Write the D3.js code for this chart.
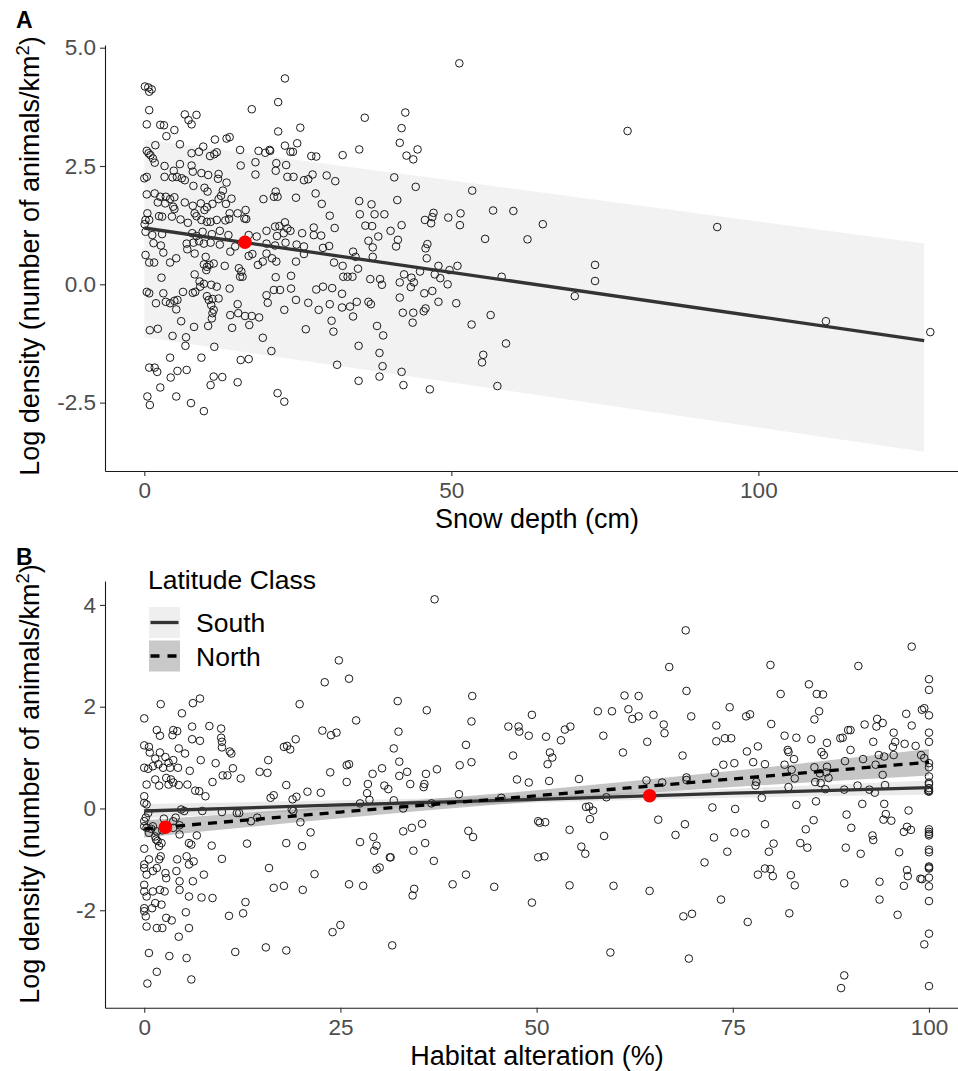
<!DOCTYPE html>
<html>
<head>
<meta charset="utf-8">
<script src="https://cdn.jsdelivr.net/npm/d3@7"></script>
<style>
  body { margin: 0; background: #fff; }
  svg { display: block; font-family: "Liberation Sans", Arial, sans-serif; }
</style>
</head>
<body>
<script>
// ---- panel A : snow depth (cm) vs log density ----
const snowData = [
  [0.1,4.18],[0.65,4.16],[1.2,4.12],[0.8,4.07],[22.9,4.35],[21.8,3.85],[17.5,3.70],[0.8,3.68],[6.6,3.59],[8.5,3.58],
  [7.2,3.47],[7.7,3.38],[0.4,3.38],[2.6,3.37],[3.2,3.36],[4.9,3.26],[3.6,3.13],[21.8,3.23],[25.4,3.31],[11.5,3.06],
  [13.4,3.08],[13.9,3.11],[1.8,2.94],[5.8,2.96],[9.6,2.91],[8.9,2.80],[11.8,2.79],[11.4,2.75],[10.7,2.71],[7.7,2.77],
  [15.6,2.84],[18.6,2.82],[20.4,2.84],[20.5,2.82],[19.7,2.78],[22.9,2.93],[23.8,2.80],[24.2,2.80],[24.9,2.98],[0.4,2.82],
  [0.7,2.77],[1.0,2.73],[1.4,2.66],[1.7,2.57],[3.3,2.50],[5.8,2.54],[7.7,2.51],[7.9,2.38],[15.7,2.51],[18.1,2.58],
  [18.1,2.32],[21.5,2.56],[23.1,2.52],[27.2,2.71],[28.0,2.70],[0.4,2.27],[0,2.24],[3.3,2.27],[4.6,2.26],[5.3,2.27],
  [6.1,2.24],[6.6,2.20],[4.8,2.40],[9.3,2.35],[10.4,2.31],[12.1,2.33],[12.0,2.23],[13.4,2.15],[8.0,2.08],[9.8,2.04],
  [10.3,1.96],[21.4,2.40],[23.3,2.27],[24.3,2.27],[27.4,2.32],[26.0,2.20],[26.7,2.22],[0.4,1.90],[1.7,1.92],[2.6,1.85],
  [3.5,1.85],[4.2,1.80],[4.9,1.84],[2.2,1.73],[3.4,1.71],[4.7,1.64],[4.9,1.59],[6.6,1.73],[7.9,1.66],[9.2,1.71],
  [9.8,1.57],[10.2,1.63],[11.1,1.70],[12.1,1.80],[12.8,1.98],[12.5,1.87],[13.3,1.70],[14.2,1.81],[16.5,1.57],[19.4,1.80],
  [21.4,1.96],[21.7,1.85],[21.1,1.85],[24.7,1.83],[27.9,1.92],[0.5,1.50],[0.8,1.36],[2.4,1.44],[2.9,1.43],[4.5,1.43],
  [5.9,1.37],[7.1,1.30],[8.2,1.50],[8.5,1.44],[9.3,1.36],[10.2,1.32],[10.8,1.32],[11.8,1.36],[13.2,1.35],[13.8,1.38],
  [13.9,1.50],[15.2,1.50],[16.3,1.39],[16.6,1.38],[21.3,1.22],[22.0,1.23],[22.9,1.31],[23.3,1.18],[27.6,1.20],[0.2,1.36],
  [0.05,1.27],
  [0.2,1.11],[1.3,1.04],[2.9,1.06],[7.8,1.08],[8.5,1.02],[9.5,1.11],[11.0,1.06],[12.3,1.13],[13.7,1.04],[17.0,1.04],
  [18.3,1.01],[19.9,1.13],[21.6,1.02],[22.7,1.08],[23.8,1.13],[25.7,1.08],[27.6,1.04],
  [1.5,0.87],[2.7,0.82],[6.9,0.86],[8.0,0.88],[8.9,0.91],[9.7,0.86],[10.8,0.88],[12.3,0.84],[14.8,0.80],[19.9,0.86],
  [21.3,0.82],[23.0,0.88],[24.8,0.84],[26.0,0.80],
  [0.2,0.62],[0.8,0.46],[1.6,0.46],[3.1,0.67],[4.2,0.46],[5.2,0.55],[7.0,0.74],[8.2,0.65],[10.0,0.58],[9.7,0.42],
  [10.2,0.37],[10.6,0.41],[10.1,0.30],[11.3,0.44],[13.1,0.39],[14.0,0.69],[15.4,0.34],[15.8,0.27],[16.0,0.16],[17.0,0.60],
  [17.6,0.64],[18.5,0.41],[19.3,0.48],[19.9,0.65],[20.8,0.55],[21.5,0.48],[24.7,0.48],[26.0,0.64],[2.8,0.14],[8.2,0.21],
  [9.0,0.06],[9.1,-0.05],[9.7,0.01],[10.9,-0.01],[11.8,-0.05],[13.9,-0.09],[15.6,0.16],[21.4,0.15],[23.9,0.18],[28.0,-0.11],
  [0.4,-0.16],[0.8,-0.19],[1.9,-0.40],[3.1,-0.19],[3.5,-0.37],[4.2,-0.40],[4.9,-0.35],[5.4,-0.33],[6.3,-0.16],[7.9,-0.18],
  [8.3,-0.16],[10.2,-0.25],[10.5,-0.33],[11.1,-0.31],[12.1,-0.30],[10.9,-0.44],[11.3,-0.54],[19.9,-0.23],[20.1,-0.39],[21.1,-0.12],
  [22.1,-0.12],[23.9,-0.09],[24.7,-0.33],[26.7,-0.39],[28.4,-0.54],[5.2,-0.53],[11.1,-0.61],[11.0,-0.72],[14.0,-0.65],[15.3,-0.61],
  [16.4,-0.67],[17.5,-0.67],[18.7,-0.70],[6.0,-0.78],[0.9,-0.97],[2.2,-0.94],[8.1,-0.90],[10.4,-0.88],[14.3,-0.92],[17.1,-0.86],
  [26.3,-0.95],[15.2,-0.42],[22.8,-0.54],[4.6,-1.09],[6.8,-1.12],[6.7,-1.30],[11.4,-1.32],[19.3,-1.13],[20.7,-1.41],[4.2,-1.55],
  [9.3,-1.55],[15.7,-1.60],[17.0,-1.58],[0.8,-1.76],[1.7,-1.76],[2.1,-1.85],[4.3,-1.97],[5.4,-1.83],[6.9,-1.81],[11.3,-1.95],
  [12.7,-1.96],[10.8,-2.13],[15.2,-2.07],[2.6,-2.18],[0.5,-2.37],[5.2,-2.37],[0.9,-2.55],[7.6,-2.51],[9.7,-2.68],[21.7,-2.30],
  [22.8,-2.48],
  [51.3,4.67],[35.9,3.52],[42.5,3.63],[41.9,3.30],[41.6,2.99],[42.7,2.72],[43.8,2.64],[44.5,2.85],[35.0,2.85],[32.3,2.73],
  [78.7,3.24],[29.7,2.30],[31.1,2.18],[40.7,2.26],[44.2,2.06],[53.4,1.98],[28.9,1.70],[35.0,1.76],[37.0,1.69],[41.2,1.78],
  [30.2,1.45],[35.1,1.48],[37.5,1.48],[39.1,1.48],[56.8,1.56],[60.1,1.55],[47.1,1.51],[46.9,1.42],[45.7,1.36],[46.7,1.29],
  [49.5,1.41],[51.5,1.50],[51.4,1.25],[64.9,1.27],[36.0,1.24],[37.1,1.23],[31.0,1.19],[40.1,1.13],[41.9,1.25],[38.1,1.01],
  [36.5,0.92],[37.2,0.78],[41.3,0.94],[41.0,0.80],[28.8,1.03],[30.1,0.81],[29.1,0.77],[55.5,0.96],[62.4,0.95],[34.0,0.69],
  [34.4,0.58],[37.2,0.58],[46.1,0.85],[45.8,0.76],[46.0,0.55],[30.9,0.46],[32.3,0.39],[34.8,0.33],[32.4,0.16],[33.1,0.16],
  [33.9,0.16],[36.8,0.11],[38.4,0.11],[38.7,-0.01],[44.9,0.27],[42.3,0.21],[43.5,0.14],[43.9,0.04],[41.6,0.04],[43.4,-0.06],
  [47.9,0.39],[47.3,0.21],[48.2,0.13],[49.4,0.00],[49.7,0.30],[51.0,0.39],[58.2,0.16],[73.4,0.41],[73.4,0.07],[70.1,-0.25],
  [29.1,-0.05],[30.6,-0.08],[32.2,-0.20],[41.6,-0.28],[45.6,-0.19],[46.9,-0.14],[30.2,-0.42],[32.2,-0.49],[33.5,-0.47],[34.6,-0.37],
  [36.5,-0.37],[36.9,-0.42],[42.1,-0.60],[43.8,-0.60],[45.5,-0.57],[45.8,-0.51],[47.9,-0.37],[50.8,-0.40],[34.0,-0.68],[30.5,-0.77],
  [30.8,-1.00],[43.7,-0.81],[37.9,-0.88],[38.9,-1.08],[53.3,-0.85],[56.4,-0.65],[58.9,-1.25],[34.9,-1.30],[55.2,-1.49],[55.0,-1.65],
  [38.3,-1.45],[38.8,-1.73],[38.3,-1.95],[41.9,-1.85],[31.4,-1.70],[34.9,-2.04],[42.2,-2.13],[46.5,-2.22],[57.5,-2.15],
  [93.3,1.21],[111.0,-0.78],[128.0,-1.01]
];
const snowXTicks = [0, 50, 100];
const snowYTicks = [-2.5, 0, 2.5, 5];
const snowFitX = [0, 127];
const snowFitY = [1.19, -1.19];
const snowBandLow = [-1.12, -3.54];
const snowBandHigh = [3.06, 0.86];
const snowMean = [[16.4, 0.89]];

// ---- panel B : habitat alteration (%) vs log density ----
const habitatData = [
  [2.1,2.05],[0.0,1.77],[4.8,1.87],[6.2,2.07],[7.1,2.16],[6.1,1.61],[8.3,1.62],[9.8,1.57],[1.6,1.54],[2.0,1.43],
  [3.7,1.54],[4.2,1.52],[3.6,1.44],[6.1,1.36],[7.1,1.33],[9.8,1.39],[9.9,1.31],[9.9,1.20],[10.9,1.12],[11.1,1.08],
  [0,1.24],[0.6,1.21],[0.7,1.10],[2.0,1.10],[2.7,1.01],[1.4,0.98],[3.1,0.90],[3.7,0.95],[4.4,1.18],[5.2,1.08],
  [7.2,0.95],[9.1,0.89],[11.3,0.79],[15.8,0.95],[17.8,1.21],[18.2,1.23],[18.6,1.16],[19.3,1.36],[19.8,2.05],[0,0.80],
  [0.5,0.78],[1.1,0.83],[1.8,0.87],[2.4,0.80],[3.3,0.80],[4.3,0.80],
  [5.8,0.74],[14.7,0.72],[15.7,0.70],[0.3,0.47],[1.4,0.57],[2.8,0.60],[3.4,0.57],[3.7,0.51],[3.1,0.47],[1.9,0.45],
  [4.4,0.46],[5.5,0.47],[6.5,0.35],[7.0,0.34],[7.8,0.24],[8.7,0.52],[10.0,0.65],[10.6,0.65],[12.3,0.59],[18.1,0.46],
  [16.1,0.21],[16.5,0.26],[18.9,0.18],[19.4,0.23],[20.8,0.33],
  [0,0.24],[0,0.11],[0.3,0.08],[0.5,-0.09],[0.2,-0.18],[0,-0.25],[0,-0.35],[0.3,-0.38],[0.6,-0.48],[0.9,-0.40],
  [1.1,-0.35],[1.6,-0.45],[1.5,-0.61],[1.4,-0.55],[1.7,-0.64],[2.2,-0.68],[1.9,-0.74],[2.3,-0.43],[2.5,-0.20],[3.7,-0.25],
  [4.0,-0.18],[4.7,-0.02],[5.1,-0.05],[4.5,-0.33],[3.7,-0.38],[4.5,-0.51],[5.7,-0.68],[6.0,-0.71],[6.7,-0.53],[7.4,-0.05],
  [8.6,-0.73],[9.9,-0.07],[11.8,-0.09],[12.1,-0.09],[13.6,-0.25],[14.4,-0.18],[13.1,-0.69],[18.1,-0.68],[20.1,-0.74],[19.9,-0.27],
  [21.2,-0.47],[18.8,-0.02],[19.0,-0.05],
  [0,-0.79],[0,-1.10],[0,-1.17],[0.3,-1.30],[0.6,-1.00],[1.1,-1.23],[1.6,-1.17],[1.9,-1.00],[2.1,-0.94],[2.7,-1.27],
  [2.8,-1.37],[2.0,-1.60],[2.6,-1.63],[4.2,-1.00],[4.1,-1.23],[4.5,-1.43],[4.5,-1.60],[5.4,-0.94],[5.7,-1.10],[6.3,-1.04],
  [6.2,-1.43],[7.6,-1.30],[9.9,-0.99],[15.9,-1.17],[16.5,-1.56],[17.8,-1.52],[20.2,-1.60],[21.7,-1.29],
  [0,-1.50],[0,-1.63],[0.3,-1.73],[0,-1.96],[0,-2.02],[0.2,-2.12],[1.1,-1.63],[1.4,-1.86],[1.0,-1.96],[2.2,-1.89],
  [2.8,-2.15],[3.5,-2.20],[0.3,-2.32],[1.6,-2.35],[2.3,-2.35],[5.7,-1.73],[7.3,-1.75],[8.7,-1.76],[5.3,-2.04],[5.7,-2.35],
  [4.4,-2.52],[12.9,-1.84],[12.6,-2.06],[10.8,-2.11],[0.6,-2.84],[3.2,-2.90],[5.4,-2.94],[1.6,-3.21],[0.4,-3.44],[6.0,-3.36],
  [11.6,-2.82],[15.5,-2.73],[18.1,-2.79],
  [37.0,4.11],[24.8,2.91],[26.1,2.55],[23.0,2.48],[32.3,2.11],[36.0,1.93],[41.8,2.21],[41.7,1.71],[27.0,1.73],[22.7,1.53],
  [23.8,1.44],[24.5,1.49],[32.4,1.51],[31.8,1.18],[41.0,1.25],[41.7,0.91],[40.2,0.85],[37.3,0.77],[35.9,0.68],[35.7,0.48],
  [35.6,0.42],[25.8,0.85],[26.1,0.87],[23.7,0.71],[25.8,0.52],[29.1,0.68],[30.3,0.79],[32.5,0.92],[32.5,0.64],[33.5,0.72],
  [33.9,0.48],[28.5,0.48],[28.4,0.30],[28.7,0.17],[30.6,0.45],[31.1,0.38],[27.5,0.10],[31.8,0.16],[33.0,0.00],[22.5,0.31],
  [40.1,0.28],[36.6,0.10],[45.5,0.21],[49.4,1.84],[46.4,1.61],[47.7,1.61],[47.8,1.51],[49.0,1.43],[51.2,1.41],[53.1,1.34],
  [53.6,1.55],[54.3,1.61],[47.0,1.04],[47.5,0.57],[49.0,0.51],[51.6,0.54],[51.7,1.10],[52.0,1.00],[51.4,0.87],[55.4,0.58],
  [57.8,1.91],[59.6,1.91],[61.2,2.22],[61.7,1.95],[62.2,1.76],[63.0,1.81],[63.0,2.21],[58.5,1.43],[61.0,1.10],[58.9,0.22],
  [56.3,0.03],[56.7,0.04],[57.2,-0.04],[56.8,-0.21],[58.6,-0.54],[50.2,-0.25],[50.4,-0.28],[51.1,-0.27],[54.2,-0.42],[55.7,-0.75],
  [56.2,-0.89],[50.2,-0.96],[51.0,-0.94],[54.2,-1.51],[59.8,-1.52],[49.4,-1.85],[59.4,-2.83],[44.6,-1.54],[41.0,-1.30],[39.3,-1.49],
  [41.3,-0.44],[41.9,-0.56],[36.9,-1.03],[35.8,-0.68],[35.4,-0.30],[34.1,-0.38],[33.0,-0.45],[34.3,-0.83],[34.4,-1.58],[34.2,-1.71],
  [31.3,-0.96],[31.4,-0.96],[31.6,-2.69],[29.2,-0.56],[29.6,-0.73],[29.3,-0.83],[29.6,-1.20],[30.0,-1.16],[27.5,-0.66],[27.9,-1.52],
  [26.1,-1.49],[24.0,-2.43],[25.0,-2.29],
  [69.0,3.50],[66.9,2.78],[64.9,1.84],[66.2,1.65],[66.3,1.48],[69.1,2.31],[69.7,1.81],[64.1,1.31],[68.6,1.04],[64.0,0.55],
  [66.0,0.51],[69.1,0.61],[69.1,0.56],[65.5,-0.22],[68.9,-0.31],[67.7,-0.52],[64.4,-1.62],[68.7,-2.12],[69.8,-2.07],[69.4,-2.95],
  [72.9,1.63],[72.9,1.32],[74.0,1.38],[74.8,1.38],[74.6,1.99],[73.8,0.86],[75.2,0.89],[72.7,0.70],[72.4,0.02],[75.3,-0.01],
  [72.6,-0.57],[75.2,-0.47],[76.6,-0.49],[74.3,-0.85],[71.4,-1.06],[73.5,-1.79],[76.9,-2.23],[76.7,1.81],[77.2,1.85],[76.8,1.12],
  [77.6,0.91],[78.2,1.22],[78.0,0.52],[77.9,0.45],[78.7,0.21],[79.1,0.87],[79.8,2.82],[79.9,1.66],[81.1,2.25],[79.1,-0.31],
  [79.6,-0.85],[80.2,-0.69],[79.1,-1.18],[79.8,-1.19],[80.1,-1.33],[78.2,-1.30],[81.6,1.43],[82.0,1.15],[82.1,1.11],[81.6,0.86],
  [82.8,0.97],[82.5,0.76],[82.1,0.42],[83.1,1.39],[82.9,0.59],[83.1,0.07],[82.4,-1.31],[82.9,-1.51],[82.2,-2.06],[84.7,2.44],
  [85.7,2.25],[86.5,2.24],[86.0,1.91],[85.4,1.75],[85.0,1.36],[86.3,1.11],[86.6,1.05],[87.0,1.29],[85.4,0.81],[86.1,0.69],
  [86.9,0.71],[87.2,0.60],[87.0,0.82],[85.5,0.52],[86.2,0.50],[86.8,0.38],[85.6,0.14],[85.3,-0.23],[84.3,-0.41],[83.6,-0.68],
  [84.5,-0.77],[89.2,-3.28],[88.8,-3.53],[89.2,-1.47],[88.7,1.38],[89.0,1.39],[89.7,1.54],[90.0,1.54],[90.0,1.15],[89.3,0.93],
  [89.2,0.37],[89.5,-0.12],[90.1,-0.38],[89.4,-0.77],[91.0,2.80],[91.8,1.65],[91.6,0.97],[90.9,0.45],[91.5,0.09],[91.3,-0.89],
  [92.9,1.31],[93.4,1.76],[94.1,1.68],[93.3,1.61],[93.2,0.86],[92.4,0.37],[93.1,0.31],[94.1,0.66],[93.6,1.05],[94.3,1.02],
  [94.4,0.46],[94.3,0.09],[94.5,-0.11],[94.2,-0.22],[95.2,-0.24],[92.8,-0.53],[92.9,-0.62],[93.7,-1.44],[93.7,-1.79],[95.5,1.49],
  [95.7,1.31],[95.4,1.21],[95.5,1.05],[96.9,1.27],[97.1,1.86],[97.8,1.63],[97.8,3.18],[98.3,1.23],[97.4,-0.04],[97.2,-0.36],
  [97.7,-0.42],[96.8,-0.46],[96.2,-0.86],[97.2,-1.21],[97.3,-1.33],[96.8,-1.52],[98.9,-1.38],[99.1,-1.39],[96.0,-2.09],[99.1,1.94],
  [99.4,1.97],[100,1.83],
  [100,2.54],[100,2.33],[100,1.49],[100,1.31],[100,0.89],[100,0.81],[100,0.63],[100,0.51],[100,0.48],[100,0.40],
  [100,0.36],[100,0.33],[100,-0.41],[100,-0.46],[100,-0.50],[100,-0.53],[100,-0.81],[100,-0.86],[100,-1.14],[100,-1.16],
  [100,-1.18],[100,-1.36],[100,-1.53],[100,-1.82],[100,-2.46],[99.4,-2.67],[100,-3.49],[99.0,1.05],[99.4,0.99],[99.9,0.34]
];
const habitatXTicks = [0, 25, 50, 75, 100];
const habitatYTicks = [-2, 0, 2, 4];
const latitudeClasses = ["South", "North"];
const fitX = [0, 25, 50, 75, 100];
const southFit = [-0.05, 0.07, 0.18, 0.30, 0.41];
const southLow = [-0.19, -0.02, 0.11, 0.21, 0.27];
const southHigh = [0.09, 0.16, 0.25, 0.39, 0.55];
const northFit = [-0.40, -0.07, 0.25, 0.58, 0.91];
const northLow = [-0.57, -0.19, 0.14, 0.42, 0.65];
const northHigh = [-0.23, 0.05, 0.36, 0.74, 1.17];
const habitatMeans = [[2.7, -0.37], [64.4, 0.25]];

const W = 958, H = 1071;
const svg = d3.select("body").append("svg")
  .attr("width", W)
  .attr("height", H);

svg.append("rect").attr("width", W).attr("height", H).attr("fill", "#fff");

const xA = d3.scaleLinear().domain([-6.4, 134.3]).range([105, 969]);
const yA = d3.scaleLinear().domain([-3.945, 5.057]).range([471, 45]);
const xB = d3.scaleLinear().domain([-5, 105.1]).range([105, 969]);
const yB = d3.scaleLinear().domain([-3.915, 4.47]).range([1007.7, 581]);

const styleAxis = (g) => {
  g.attr("font-size", null).attr("font-family", null);
  g.select(".domain").attr("stroke", "#1a1a1a").attr("stroke-width", 1.1);
  g.selectAll(".tick line").attr("stroke", "#333").attr("stroke-width", 1.1);
  g.selectAll(".tick text").attr("fill", "#4d4d4d").style("font-size", "22.5px");
};

const drawAxes = (x, y, xTicks, yTicks, yFmt, bottom, left) => {
  svg.append("g")
    .attr("transform", `translate(0,${bottom})`)
    .call(d3.axisBottom(x).tickValues(xTicks).tickFormat(d3.format("d"))
      .tickSize(5).tickSizeOuter(0).tickPadding(6))
    .call(styleAxis);
  svg.append("g")
    .attr("transform", `translate(${left},0)`)
    .call(d3.axisLeft(y).tickValues(yTicks).tickFormat(yFmt)
      .tickSize(5).tickSizeOuter(0).tickPadding(4))
    .call(styleAxis);
};

const drawPoints = (g, data, x, y) => {
  g.selectAll("circle.obs")
    .data(data)
    .enter()
    .append("circle")
    .attr("class", "obs")
    .attr("cx", (d) => x(d[0]))
    .attr("cy", (d) => y(d[1]))
    .attr("r", 3.8)
    .attr("fill", "none")
    .attr("stroke", "#1a1a1a")
    .attr("stroke-width", 1);
};

const drawMeans = (g, data, x, y) => {
  g.selectAll("circle.mean")
    .data(data)
    .enter()
    .append("circle")
    .attr("class", "mean")
    .attr("cx", (d) => x(d[0]))
    .attr("cy", (d) => y(d[1]))
    .attr("r", 6.8)
    .attr("fill", "#ff0000");
};

const yTitle = (cy, label) => {
  const t = svg.append("text")
    .attr("transform", `translate(39,${cy}) rotate(-90)`)
    .attr("text-anchor", "middle")
    .style("font-size", "27px")
    .attr("fill", "#000");
  t.append("tspan").text(label);
  t.append("tspan").attr("dy", -10).style("font-size", "18.5px").text("2");
  t.append("tspan").attr("dy", 10).text(")");
};

// ---------- panel A ----------
const gA = svg.append("g");
const bandA = snowFitX.map((v, i) => ({ x: v, lo: snowBandLow[i], hi: snowBandHigh[i] }));
gA.append("path")
  .datum(bandA)
  .attr("fill", "#f2f2f2")
  .attr("d", d3.area().x((d) => xA(d.x)).y0((d) => yA(d.lo)).y1((d) => yA(d.hi)));

drawPoints(gA, snowData, xA, yA);

gA.append("path")
  .datum(snowFitX.map((v, i) => [v, snowFitY[i]]))
  .attr("fill", "none")
  .attr("stroke", "#333")
  .attr("stroke-width", 3.3)
  .attr("d", d3.line().x((d) => xA(d[0])).y((d) => yA(d[1])));

drawMeans(gA, snowMean, xA, yA);
drawAxes(xA, yA, snowXTicks, snowYTicks, (d) => d.toFixed(1), 471, 105);

// ---------- panel B ----------
const gB = svg.append("g");
const bandArea = d3.area()
  .curve(d3.curveMonotoneX)
  .x((d) => xB(d.x)).y0((d) => yB(d.lo)).y1((d) => yB(d.hi));
const bandSouth = fitX.map((v, i) => ({ x: v, lo: southLow[i], hi: southHigh[i] }));
const bandNorth = fitX.map((v, i) => ({ x: v, lo: northLow[i], hi: northHigh[i] }));

gB.append("path").datum(bandSouth)
  .attr("fill", "#555").attr("fill-opacity", 0.12).attr("d", bandArea);
gB.append("path").datum(bandNorth)
  .attr("fill", "#555").attr("fill-opacity", 0.34).attr("d", bandArea);

drawPoints(gB, habitatData, xB, yB);

const fitLine = d3.line().x((d) => xB(d[0])).y((d) => yB(d[1]));
gB.append("path")
  .datum(fitX.map((v, i) => [v, southFit[i]]))
  .attr("fill", "none")
  .attr("stroke", "#333")
  .attr("stroke-width", 3.3)
  .attr("d", fitLine);
gB.append("path")
  .datum(fitX.map((v, i) => [v, northFit[i]]))
  .attr("fill", "none")
  .attr("stroke", "#000")
  .attr("stroke-width", 3.3)
  .attr("stroke-dasharray", "9,7")
  .attr("d", fitLine);

drawMeans(gB, habitatMeans, xB, yB);
drawAxes(xB, yB, habitatXTicks, habitatYTicks, (d) => String(d), 1007.7, 105);

// legend
const leg = svg.append("g").attr("transform", "translate(148,0)");
leg.append("text")
  .attr("x", 0).attr("y", 589)
  .style("font-size", "26.5px")
  .text("Latitude Class");
const keyFill = ["#efefef", "#c9c9c9"];
const keyDash = [null, "9,8"];
const keyStroke = ["#333", "#000"];
latitudeClasses.forEach((name, i) => {
  const y0 = 607 + i * 33.5;
  leg.append("rect")
    .attr("x", 1).attr("y", y0).attr("width", 31).attr("height", 31)
    .attr("fill", keyFill[i]);
  leg.append("line")
    .attr("x1", 2.5).attr("x2", 30.5)
    .attr("y1", y0 + 15.5).attr("y2", y0 + 15.5)
    .attr("stroke", keyStroke[i])
    .attr("stroke-width", 3.3)
    .attr("stroke-dasharray", keyDash[i]);
  leg.append("text")
    .attr("x", 48).attr("y", y0 + 25)
    .style("font-size", "26.5px")
    .text(name);
});

// titles
yTitle(256, "Log density (number of animals/km");
yTitle(784, "Log density (number of animals/km");

svg.append("text")
  .attr("x", 537).attr("y", 528)
  .attr("text-anchor", "middle")
  .style("font-size", "27px")
  .text("Snow depth (cm)");
svg.append("text")
  .attr("x", 537).attr("y", 1065)
  .attr("text-anchor", "middle")
  .style("font-size", "27px")
  .text("Habitat alteration (%)");

svg.append("text").attr("x", 16).attr("y", 28)
  .style("font-size", "23px").style("font-weight", "bold").text("A");
svg.append("text").attr("x", 16).attr("y", 565)
  .style("font-size", "23px").style("font-weight", "bold").text("B");
</script>
</body>
</html>
